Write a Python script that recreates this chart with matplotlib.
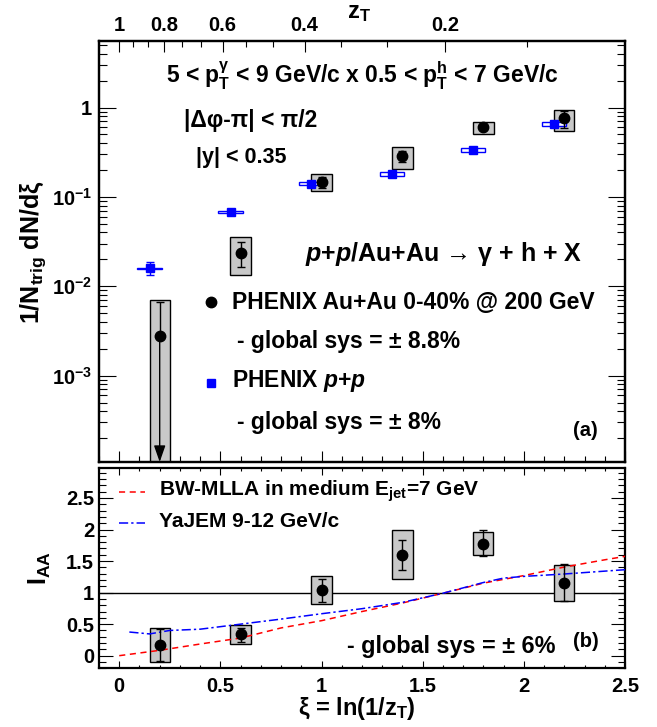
import numpy as np
import matplotlib
matplotlib.use('Agg')
import matplotlib.pyplot as plt
from matplotlib.ticker import FixedLocator, MultipleLocator, LogLocator, NullFormatter, FormatStrFormatter

plt.rcParams['font.family'] = ['Liberation Sans', 'DejaVu Sans']
plt.rcParams['font.weight'] = 'bold'
plt.rcParams['mathtext.fontset'] = 'custom'
plt.rcParams['mathtext.rm'] = 'Liberation Sans:bold'
plt.rcParams['mathtext.it'] = 'Liberation Sans:bold:italic'
plt.rcParams['mathtext.bf'] = 'Liberation Sans:bold'
plt.rcParams['mathtext.default'] = 'rm'

# --- panel (a): per-trigger yields ---
xi_aa = [0.2, 0.6, 1.0, 1.4, 1.8, 2.2]
y_aa = [2.8e-3, 0.0235, 0.148, 0.289, 0.600, 0.772]
y_aa_stat_lo = [2.8e-3, 0.0164, 0.127, 0.245, 0.570, 0.590]
y_aa_stat_hi = [6.7e-3, 0.0310, 0.168, 0.330, 0.630, 0.925]
y_aa_sys_lo = [1e-5, 0.0135, 0.116, 0.205, 0.505, 0.550]
y_aa_sys_hi = [7.0e-3, 0.0360, 0.180, 0.365, 0.685, 0.950]

xi_pp = [0.15, 0.55, 0.95, 1.35, 1.75, 2.15]
y_pp = [0.0159, 0.0678, 0.141, 0.180, 0.335, 0.650]
y_pp_stat = [0.0026, 0.003, 0.005, 0.006, 0.010, 0.020]
y_pp_sys_lo = [0.0157, 0.0655, 0.135, 0.171, 0.318, 0.617]
y_pp_sys_hi = [0.0161, 0.0701, 0.147, 0.189, 0.352, 0.683]

zt_major = [1, 0.8, 0.6, 0.4, 0.2]
zt_labels = ['1', '0.8', '0.6', '0.4', '0.2']
zt_minor = [14/15, 13/15, 11/15, 10/15, 8/15, 7/15, 5/15, 4/15, 2/15]

# --- panel (b): I_AA ---
iaa = [0.174, 0.343, 1.035, 1.60, 1.775, 1.16]
iaa_stat_lo = [-0.09, 0.21, 0.845, 1.36, 1.574, 0.87]
iaa_stat_hi = [0.43, 0.44, 1.22, 1.84, 1.986, 1.45]
iaa_sys_lo = [-0.10, 0.185, 0.82, 1.22, 1.59, 0.87]
iaa_sys_hi = [0.44, 0.48, 1.257, 1.986, 1.96, 1.44]

mlla_xi = [0.0, 0.2, 0.4, 0.6, 0.8, 1.0, 1.2, 1.4, 1.6, 1.8, 2.0, 2.2, 2.4, 2.5]
mlla_y = [0.0, 0.085, 0.185, 0.28, 0.44, 0.555, 0.70, 0.835, 0.99, 1.15, 1.27, 1.405, 1.52, 1.574]

yajem_xi = [0.05, 0.1, 0.15, 0.25, 0.4, 0.6, 0.8, 1.0, 1.2, 1.4, 1.6, 1.8, 1.9, 2.0, 2.2, 2.5]
yajem_y = [0.375, 0.36, 0.345, 0.40, 0.42, 0.50, 0.58, 0.665, 0.745, 0.845, 0.99, 1.16, 1.23, 1.257, 1.295, 1.363]

W, H = 657, 727
def fx(x):
    return x / W
def fy(y):
    return 1 - y / H

fig = plt.figure(figsize=(W / 100, H / 100), dpi=100)

ax1 = fig.add_axes([fx(99), fy(462), fx(625) - fx(99), fy(40.7) - fy(462)])
ax2 = fig.add_axes([fx(99), fy(668.3), fx(625) - fx(99), fy(467.7) - fy(668.3)])

grey = '#c8c8c8'
blue = '#0000ff'

# sys boxes Au+Au
ax1.bar(xi_aa, np.array(y_aa_sys_hi) - np.array(y_aa_sys_lo), bottom=y_aa_sys_lo,
        width=0.1, color=grey, edgecolor='k', linewidth=1.0, zorder=2)
ya = np.array(y_aa)
ax1.errorbar(xi_aa, ya, yerr=[ya - np.array(y_aa_stat_lo), np.array(y_aa_stat_hi) - ya],
             fmt='o', color='k', ms=7.5, elinewidth=1.0, capsize=3, capthick=1.0, zorder=4)
# upper limit arrow for first point
ax1.annotate('', xy=(xi_aa[0], 0.0), xycoords=('data', 'axes fraction'),
             xytext=(xi_aa[0], y_aa[0]), textcoords='data',
             arrowprops=dict(arrowstyle='-|>,head_length=1.0,head_width=0.35',
                             mutation_scale=10, color='k', lw=1.0, shrinkA=0, shrinkB=0),
             zorder=4)

# p+p
ax1.bar(xi_pp, np.array(y_pp_sys_hi) - np.array(y_pp_sys_lo), bottom=y_pp_sys_lo,
        width=0.12, facecolor='white', edgecolor=blue, linewidth=1.0, zorder=3)
ax1.errorbar(xi_pp, y_pp, yerr=y_pp_stat, fmt='s', color=blue, ms=5.5,
             elinewidth=1.0, capsize=3, capthick=1.0, zorder=5)

ax1.set_xlim(-0.1, 2.5)
ax1.set_yscale('log')
ax1.set_ylim(1.08e-4, 5.6)
ax1.yaxis.set_major_locator(FixedLocator([1e-3, 1e-2, 1e-1, 1]))
ax1.set_yticklabels(['$10^{-3}$', '$10^{-2}$', '$10^{-1}$', '1'])
ax1.yaxis.set_minor_locator(LogLocator(base=10, subs=np.arange(2, 10)))
ax1.yaxis.set_minor_formatter(NullFormatter())
ax1.xaxis.set_major_locator(MultipleLocator(0.5))
ax1.xaxis.set_minor_locator(MultipleLocator(0.1))
ax1.tick_params(axis='x', which='both', direction='in', labelbottom=False, top=False)
ax1.tick_params(axis='x', which='major', length=8, width=0.8)
ax1.tick_params(axis='x', which='minor', length=4, width=0.8)
ax1.tick_params(axis='y', which='both', direction='in', right=True, labelsize=14.5, pad=5)
ax1.tick_params(axis='y', which='major', length=12, width=0.8)
ax1.tick_params(axis='y', which='minor', length=6, width=0.8)

axt = ax1.twiny()
axt.set_xlim(ax1.get_xlim())
axt.xaxis.set_major_locator(FixedLocator(np.log(1 / np.array(zt_major))))
axt.set_xticklabels(zt_labels)
axt.xaxis.set_minor_locator(FixedLocator(np.log(1 / np.array(zt_minor))))
axt.tick_params(axis='x', which='both', direction='in', labelsize=14.5, pad=4)
axt.tick_params(axis='x', which='major', length=8, width=0.8)
axt.tick_params(axis='x', which='minor', length=4, width=0.8)

for a in (ax1, ax2, axt):
    for s in a.spines.values():
        s.set_linewidth(1.6)

# --- panel (b) ---
ax2.axhline(1.0, color='k', lw=1.0, zorder=1)
ax2.plot(mlla_xi, mlla_y, color='red', lw=1.1, linestyle=(0, (4, 3)), zorder=3)
ax2.plot(yajem_xi, yajem_y, color=blue, lw=1.1, linestyle=(0, (6, 2, 1.5, 2)), zorder=3)
ax2.bar(xi_aa, np.array(iaa_sys_hi) - np.array(iaa_sys_lo), bottom=iaa_sys_lo,
        width=0.1, color=grey, edgecolor='k', linewidth=1.0, zorder=2)
yi = np.array(iaa)
ax2.errorbar(xi_aa, yi, yerr=[yi - np.array(iaa_stat_lo), np.array(iaa_stat_hi) - yi],
             fmt='o', color='k', ms=7.5, elinewidth=1.0, capsize=3, capthick=1.0, zorder=4)
ax2.set_xlim(-0.1, 2.5)
ax2.set_ylim(-0.2, 2.98)
ax2.yaxis.set_major_locator(FixedLocator([0, 0.5, 1, 1.5, 2, 2.5]))
ax2.yaxis.set_minor_locator(MultipleLocator(0.1))
ax2.xaxis.set_major_locator(MultipleLocator(0.5))
ax2.xaxis.set_minor_locator(MultipleLocator(0.1))
ax2.xaxis.set_major_formatter(FormatStrFormatter('%g'))
ax2.yaxis.set_major_formatter(FormatStrFormatter('%g'))
ax2.tick_params(axis='both', which='both', direction='in', top=True, right=True, labelsize=14.5)
ax2.tick_params(axis='x', which='major', length=5, width=0.8, pad=6)
ax2.tick_params(axis='x', which='minor', length=2.5, width=0.8)
ax2.tick_params(axis='y', which='major', length=10, width=0.8, pad=3.5)
ax2.tick_params(axis='y', which='minor', length=5, width=0.8)

# --- texts ---
fig.text(fx(165.5), fy(83.3), r'5 < $p_{T}^{\gamma}$ < 9 GeV/c x 0.5 < $p_{T}^{h}$ < 7 GeV/c',
         fontsize=16.5, va='baseline')
fig.text(fx(184), fy(127), '|Δφ-π| < π/2', fontsize=16.5, va='baseline')
fig.text(fx(196), fy(163), '|y| < 0.35', fontsize=15.5, va='baseline')
fig.text(fx(305), fy(261), r'$\mathit{p}$+$\mathit{p}$/Au+Au → γ + h + X', fontsize=18, va='baseline')

fig.text(fx(232.5), fy(309.3), 'PHENIX Au+Au 0-40% @ 200 GeV', fontsize=16.5, va='baseline')
fig.text(fx(236.7), fy(348.3), '- global sys = ± 8.8%', fontsize=16.5, va='baseline')
fig.text(fx(232.5), fy(387), r'PHENIX $\mathit{p}$+$\mathit{p}$', fontsize=16.5, va='baseline')
fig.text(fx(236.7), fy(429.3), '- global sys = ± 8%', fontsize=16.5, va='baseline')
fig.text(fx(573), fy(436), '(a)', fontsize=14.5, va='baseline')
fig.lines.append(plt.Line2D([fx(210.7)], [fy(301.7)], marker='o', color='k', ms=7.5,
                            transform=fig.transFigure))
fig.lines.append(plt.Line2D([fx(210.7)], [fy(382.7)], marker='s', color=blue, ms=5.5,
                            transform=fig.transFigure))

fig.lines.append(plt.Line2D([fx(119), fx(144.5)], [fy(492.3), fy(492.3)], color='red', lw=1.1,
                            linestyle=(0, (4, 3)), transform=fig.transFigure))
fig.lines.append(plt.Line2D([fx(119), fx(144.5)], [fy(523.3), fy(523.3)], color=blue, lw=1.1,
                            linestyle=(0, (6, 2, 1.5, 2)), transform=fig.transFigure))
fig.text(fx(159), fy(496), r'BW-MLLA in medium E$_{jet}$=7 GeV', fontsize=15, va='baseline')
fig.text(fx(159), fy(526.7), 'YaJEM 9-12 GeV/c', fontsize=15, va='baseline')
fig.text(fx(347), fy(653.3), '- global sys = ± 6%', fontsize=16.8, va='baseline')
fig.text(fx(573), fy(646.7), '(b)', fontsize=14.5, va='baseline')

# axis titles
fig.text(fx(33), fy(252), r'1/N$_{trig}$ dN/dξ', fontsize=18, rotation=90, ha='center', va='center')
fig.text(fx(40), fy(568), r'I$_{AA}$', fontsize=18, rotation=90, ha='center', va='center')
fig.text(fx(357), fy(708), r'ξ = ln(1/z$_{T}$)', fontsize=17, ha='center', va='center')
fig.text(fx(359), fy(12), r'z$_{T}$', fontsize=17, ha='center', va='center')

fig.savefig('out.png', dpi=100)
